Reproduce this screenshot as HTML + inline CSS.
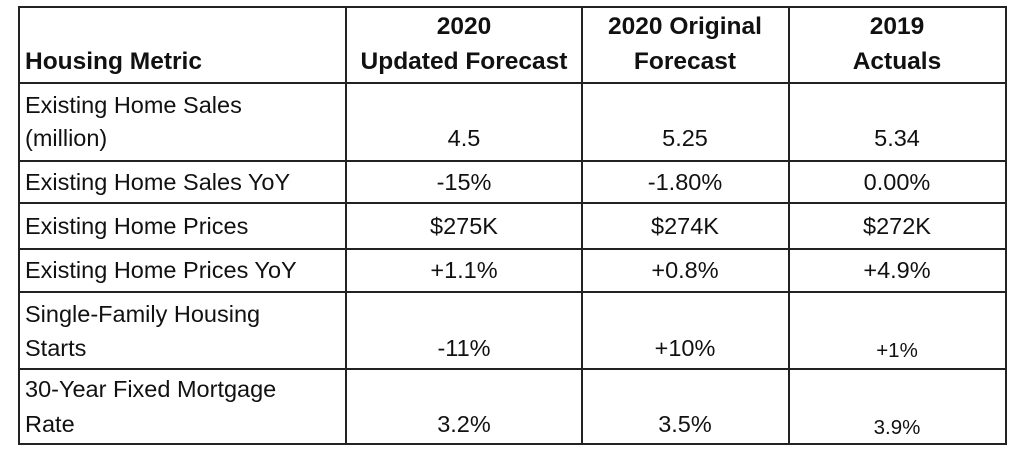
<!DOCTYPE html>
<html><head><style>
body{margin:0;width:1024px;height:453px;background:#fff;position:relative;overflow:hidden;font-family:"Liberation Sans",Arial,sans-serif;color:#111}
.h{position:absolute;background:#222;height:2px}
.v{position:absolute;background:#222;width:2px}
.t{position:absolute;font-size:23.5px;line-height:30px;height:30px;white-space:nowrap}
.c{transform:translateX(-50%);text-align:center}
.b{font-weight:bold;font-size:24.5px}
.s{font-size:20.5px}
</style></head><body>
<div class="h" style="left:18px;top:6px;width:989px"></div>
<div class="h" style="left:18px;top:82px;width:989px"></div>
<div class="h" style="left:18px;top:160px;width:989px"></div>
<div class="h" style="left:18px;top:202px;width:989px"></div>
<div class="h" style="left:18px;top:248px;width:989px"></div>
<div class="h" style="left:18px;top:291px;width:989px"></div>
<div class="h" style="left:18px;top:368px;width:989px"></div>
<div class="h" style="left:18px;top:443px;width:989px"></div>
<div class="v" style="left:18px;top:6px;height:439px"></div>
<div class="v" style="left:345px;top:6px;height:439px"></div>
<div class="v" style="left:581px;top:6px;height:439px"></div>
<div class="v" style="left:788px;top:6px;height:439px"></div>
<div class="v" style="left:1005px;top:6px;height:439px"></div>

<div class="t b" style="left:25px;top:47px">Housing Metric</div>
<div class="t b c" style="left:464px;top:12px">2020</div>
<div class="t b c" style="left:464px;top:47px">Updated Forecast</div>
<div class="t b c" style="left:685px;top:12px">2020 Original</div>
<div class="t b c" style="left:685px;top:47px">Forecast</div>
<div class="t b c" style="left:897px;top:12px">2019</div>
<div class="t b c" style="left:897px;top:47px">Actuals</div>

<div class="t" style="left:25px;top:90px">Existing Home Sales</div>
<div class="t" style="left:25px;top:123px">(million)</div>
<div class="t c" style="left:464px;top:123px">4.5</div>
<div class="t c" style="left:685px;top:123px">5.25</div>
<div class="t c" style="left:897px;top:123px">5.34</div>

<div class="t" style="left:25px;top:167px">Existing Home Sales YoY</div>
<div class="t c" style="left:464px;top:167px">-15%</div>
<div class="t c" style="left:685px;top:167px">-1.80%</div>
<div class="t c" style="left:897px;top:167px">0.00%</div>

<div class="t" style="left:25px;top:211px">Existing Home Prices</div>
<div class="t c" style="left:464px;top:211px">$275K</div>
<div class="t c" style="left:685px;top:211px">$274K</div>
<div class="t c" style="left:897px;top:211px">$272K</div>

<div class="t" style="left:25px;top:255px">Existing Home Prices YoY</div>
<div class="t c" style="left:464px;top:255px">+1.1%</div>
<div class="t c" style="left:685px;top:255px">+0.8%</div>
<div class="t c" style="left:897px;top:255px">+4.9%</div>

<div class="t" style="left:25px;top:299px">Single-Family Housing</div>
<div class="t" style="left:25px;top:333px">Starts</div>
<div class="t c" style="left:464px;top:333px">-11%</div>
<div class="t c" style="left:685px;top:333px">+10%</div>
<div class="t c s" style="left:897px;top:336px">+1%</div>

<div class="t" style="left:25px;top:374px">30-Year Fixed Mortgage</div>
<div class="t" style="left:25px;top:409px">Rate</div>
<div class="t c" style="left:464px;top:409px">3.2%</div>
<div class="t c" style="left:685px;top:409px">3.5%</div>
<div class="t c s" style="left:897px;top:413px">3.9%</div>
</body></html>
